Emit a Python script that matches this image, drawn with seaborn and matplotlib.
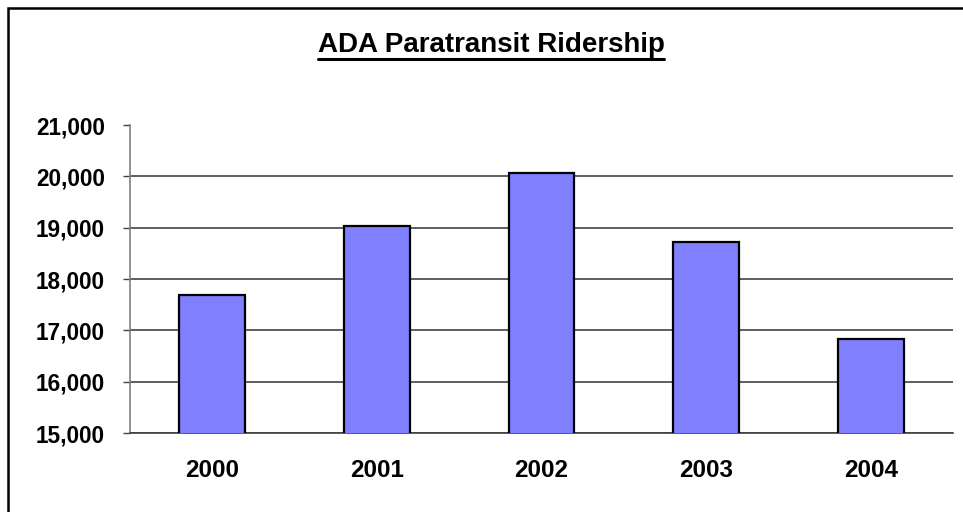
import matplotlib
matplotlib.use("Agg")
import matplotlib.pyplot as plt
import seaborn as sns
from matplotlib.lines import Line2D
from matplotlib.patches import Rectangle

years = ["2000", "2001", "2002", "2003", "2004"]
riders = [17690, 19040, 20070, 18730, 16840]
ytick_vals = [15000, 16000, 17000, 18000, 19000, 20000, 21000]
ytick_labels = ["15,000", "16,000", "17,000", "18,000", "19,000", "20,000", "21,000"]
title = "ADA Paratransit Ridership"

sns.set_style("white")
plt.rcParams["font.family"] = ["Liberation Sans", "DejaVu Sans"]
plt.rcParams["text.color"] = "black"

W, H = 963, 512
fig = plt.figure(figsize=(W / 100, H / 100), dpi=100)
ax = fig.add_axes([130 / W, 1 - 433 / H, (953 - 130) / W, (433 - 125) / H])

sns.barplot(x=years, y=riders, color="#8080FF", saturation=1, edgecolor="black",
            linewidth=1.6, width=0.4, ax=ax, zorder=3)

ax.set_ylim(15000, 21000)
ax.set_xlim(-0.5, 4.5)
ax.set_yticks(ytick_vals)
ax.set_yticklabels(ytick_labels, fontsize=16.3, fontweight="bold")
ax.set_xticks(range(len(years)))
ax.set_xticklabels(years, fontsize=17.5, fontweight="bold")
ax.set_xticks([i - 0.5 for i in range(len(years) + 1)], minor=True)
ax.tick_params(axis="x", which="major", length=0, pad=19, labelcolor="black")
ax.tick_params(axis="x", which="minor", length=5, width=1, color="#404040", direction="out")
ax.tick_params(axis="y", which="major", length=5, width=1, color="#404040", direction="out",
               pad=13, left=True, labelcolor="black")
ax.set_xlabel("")
ax.set_ylabel("")

ax.yaxis.grid(True, color="#333333", linewidth=1.1, zorder=0)
ax.set_axisbelow(True)
ax.get_ygridlines()[-1].set_visible(False)

for s in ["top", "right"]:
    ax.spines[s].set_visible(False)
ax.spines["left"].set_color("#808080")
ax.spines["left"].set_linewidth(1.2)
ax.spines["bottom"].set_color("#404040")
ax.spines["bottom"].set_linewidth(1.2)

# title with underline
t = fig.text(491 / W, 1 - 52 / H, title, ha="center", va="baseline",
             fontsize=20, fontweight="bold", color="black")
fig.canvas.draw()
bb = t.get_window_extent()
uy = 1 - 59 / H
fig.add_artist(Line2D([bb.x0 / W, bb.x1 / W], [uy, uy], transform=fig.transFigure,
                      color="black", linewidth=2.2))

# figure border (cut off at right and bottom)
fig.add_artist(Rectangle((7.5 / W, -0.1), 1.2, 1 - 7.5 / H + 0.1, transform=fig.transFigure,
                         fill=False, edgecolor="black", linewidth=1.8))

fig.savefig("out.png", dpi=100)
